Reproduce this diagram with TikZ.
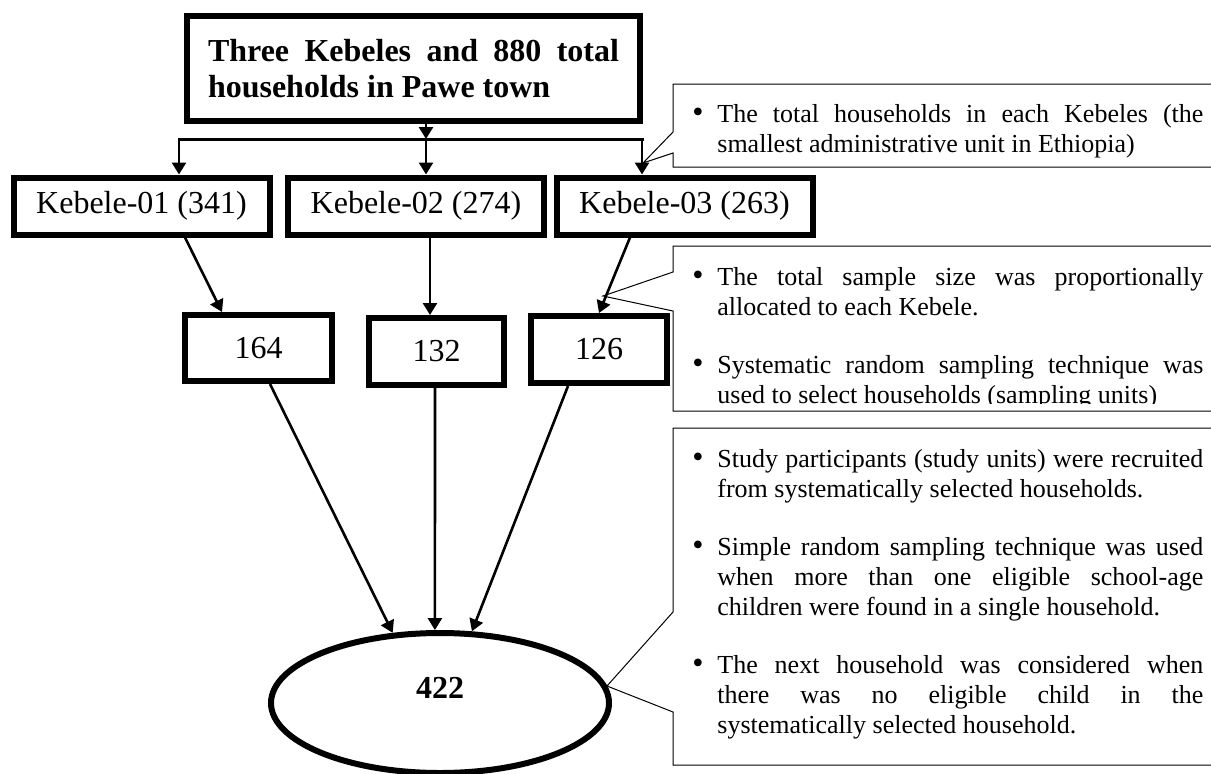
\documentclass[tikz,border=0pt]{standalone}
\usepackage{fontspec}
\setmainfont{Liberation Serif}
\usetikzlibrary{shapes.geometric, arrows.meta, calc}
\hyphenpenalty=10000
\exhyphenpenalty=10000
\tikzstyle{head} = [rectangle, draw=black, line width=3pt, minimum width=226.5pt, minimum height=52.5pt, inner sep=0pt, text width=205.5pt, align=justify, font=\fontsize{16}{18.4}\selectfont\bfseries]
\tikzstyle{kebele} = [rectangle, draw=black, line width=3pt, minimum width=128pt, minimum height=28.5pt, inner sep=0pt, text centered, font=\fontsize{16}{18}\selectfont]
\tikzstyle{sample} = [rectangle, draw=black, line width=3pt, minimum height=33pt, inner sep=0pt, text centered, font=\fontsize{16}{18}\selectfont]
\tikzstyle{total} = [ellipse, draw=black, line width=3pt, minimum width=169pt, minimum height=70pt, inner sep=0pt, font=\fontsize{16}{18}\selectfont\bfseries]
\tikzstyle{arrow} = [line width=1.3pt,->,>={Triangle[length=6pt,width=7pt]}]
\tikzstyle{bus} = [line width=1.5pt, line cap=rect]
\tikzstyle{callout} = [draw=black, line width=0.5pt]
\tikzstyle{note} = [anchor=base west, inner sep=0pt, text width=256.5pt, align=justify, font=\fontsize{13}{15}\selectfont]
\newcommand{\bitem}{\spaceskip=.25em plus .5em\relax\setlength{\parskip}{14pt}\hangindent=13.5pt\hangafter=1\noindent\makebox[13.5pt][l]{\hspace{1pt}{\fontsize{16}{15}\selectfont\textbullet}}}

\begin{document}
\begin{tikzpicture}[x=0.5pt, y=-0.5pt]
        \useasboundingbox (0,0) rectangle (1211,773);
        \clip (0,0) rectangle (1211,773);

        \node (top) [head] at (413.5,68.5) {Three Kebeles and 880 total households in Pawe town};
        \node (keb1) [kebele] at (141.5,206) {Kebele-01 (341)};
        \node (keb2) [kebele] at (416,206) {Kebele-02 (274)};
        \node (keb3) [kebele] at (684.5,206) {Kebele-03 (263)};
        \node (n164) [sample, minimum width=73.5pt] at (258.5,348) {164};
        \node (n132) [sample, minimum width=67.5pt, minimum height=33.5pt] at (436.5,351.5) {132};
        \node (n126) [sample, minimum width=68pt, minimum height=33.5pt] at (599,349.5) {126};
        \node (tot) [total] at (440,703) {\raisebox{2.5pt}[0pt][0pt]{422}};

        \coordinate (tip1) at (643,163);
        \coordinate (tip2) at (603,296);
        \coordinate (tip3) at (607,686);
        \draw[callout] (1230,84) -- (673,84) -- (673,132) -- (tip1) -- (673,153) -- (673,167) -- (1230,167) -- cycle;
        \draw[callout] (1230,246) -- (673,246) -- (673,272) -- (tip2) -- (673,311) -- (673,411) -- (1230,411) -- cycle;
        \draw[callout] (1230,428) -- (673,428) -- (673,612) -- (tip3) -- (673,712) -- (673,765) -- (1230,765) -- cycle;

        \node (note1) [note] at (690,122) {\bitem The total households in each Kebeles (the smallest administrative unit in Ethiopia)\par};
        \begin{scope}
            \clip (673,246) rectangle (1211,403);
            \node (note2) [note] at (690,285) {\bitem The total sample size was proportionally allocated to each Kebele.\par\bitem Systematic random sampling technique was used to select households (sampling units)\par};
        \end{scope}
        \node (note3) [note] at (690,467) {\bitem Study participants (study units) were recruited from systematically selected households.\par\bitem Simple random sampling technique was used when more than one eligible school-age children were found in a single household.\par\bitem The next household was considered when there was no eligible child in the systematically selected household.\par};

        \coordinate (mid) at (426,139);
        \coordinate (busL) at (179,139);
        \coordinate (busR) at (642,139);
        \draw[arrow] (top.south -| mid) -- (mid);
        \draw[bus] (busL) -- (busR);
        \draw[arrow] (busL) -- (busL |- keb1.north);
        \draw[arrow] (mid) -- (mid |- keb2.north);
        \draw[arrow] (busR) -- (busR |- keb3.north);

        \draw[arrow] ($(keb1.south)+(43.5,0)$) -- ($(n164.north)+(-36.5,0)$);
        \draw[arrow] ($(keb2.south)+(14,0)$) -- ($(n132.north)+(-6.5,0)$);
        \draw[arrow] ($(keb3.south)+(-54.5,0)$) -- (n126.north);
        \draw[arrow] ($(n164.south)+(11.5,0)$) -- (tot.124);
        \draw[arrow] ($(n132.south)+(-1.5,0)$) -- (tot.94);
        \draw[arrow] ($(n126.south)+(-31,0)$) -- (tot.66);
    \end{tikzpicture}
\end{document}
